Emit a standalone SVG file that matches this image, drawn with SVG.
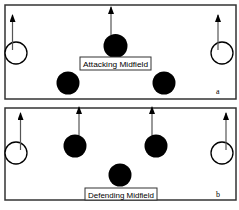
<svg xmlns="http://www.w3.org/2000/svg" width="239" height="210" viewBox="0 0 239 210">
<defs>
<marker id="ah" markerWidth="8" markerHeight="6" refX="7" refY="3" orient="auto" markerUnits="userSpaceOnUse" viewBox="0 0 8 6">
<path d="M0,0 L8,3 L0,6 Z" fill="#000"/>
</marker>
</defs>
<style>
.panel{fill:#fff;stroke:#333;stroke-width:1.5}
.open{fill:#fff;stroke:#000;stroke-width:1.3}
.fill{fill:#000}
.arr{stroke:#555;stroke-width:1.2;fill:none}
.lbox{fill:#fff;stroke:#333;stroke-width:1}
.lbl{font-family:"Liberation Sans",Arial,sans-serif;font-size:8px;fill:#000}
.tag{font-family:"Liberation Serif",serif;font-size:8px;fill:#000}
</style>
<rect width="239" height="210" fill="#fff"/>
<rect class="panel" x="5" y="5" width="231" height="94"/>
<rect class="panel" x="5" y="108" width="231" height="92"/>
<g id="nodes">
<g id="a-left"><circle class="open" cx="16" cy="53" r="11"/></g>
<g id="a-top"><circle class="fill" cx="115.5" cy="46" r="12"/></g>
<g id="a-bl"><circle class="fill" cx="68" cy="83" r="11.5"/></g>
<g id="a-br"><circle class="fill" cx="164" cy="83" r="11.5"/></g>
<g id="a-right"><circle class="open" cx="222" cy="53" r="11"/></g>
<g id="a-label"><rect class="lbox" x="80" y="57" width="71" height="13"/><text class="lbl" x="115.5" y="67" text-anchor="middle" textLength="65" lengthAdjust="spacingAndGlyphs">Attacking Midfield</text></g>
<g id="a-tag"><text class="tag" x="216" y="94">a</text></g>
<g id="b-left"><circle class="open" cx="16" cy="153" r="11"/></g>
<g id="b-l2"><circle class="fill" cx="75" cy="146" r="11.5"/></g>
<g id="b-bottom"><circle class="fill" cx="120" cy="175" r="11.5"/></g>
<g id="b-r2"><circle class="fill" cx="156" cy="146" r="11.5"/></g>
<g id="b-right"><circle class="open" cx="222" cy="153" r="11"/></g>
<g id="b-label"><rect class="lbox" x="85" y="188" width="72" height="12"/><text class="lbl" x="121" y="197.5" text-anchor="middle" textLength="66" lengthAdjust="spacingAndGlyphs">Defending Midfield</text></g>
<g id="b-tag"><text class="tag" x="216" y="197">b</text></g>
</g>
<g id="connectors">
<line class="arr" x1="12.5" y1="50" x2="12.5" y2="15" marker-end="url(#ah)"/>
<line class="arr" x1="111" y1="35" x2="111" y2="7" marker-end="url(#ah)"/>
<line class="arr" x1="218" y1="50" x2="218" y2="15" marker-end="url(#ah)"/>
<line class="arr" x1="20.5" y1="150" x2="20.5" y2="113" marker-end="url(#ah)"/>
<line class="arr" x1="79" y1="135" x2="79" y2="107" marker-end="url(#ah)"/>
<line class="arr" x1="152" y1="135" x2="152" y2="107" marker-end="url(#ah)"/>
<line class="arr" x1="226" y1="150" x2="226" y2="113" marker-end="url(#ah)"/>
</g>
</svg>
